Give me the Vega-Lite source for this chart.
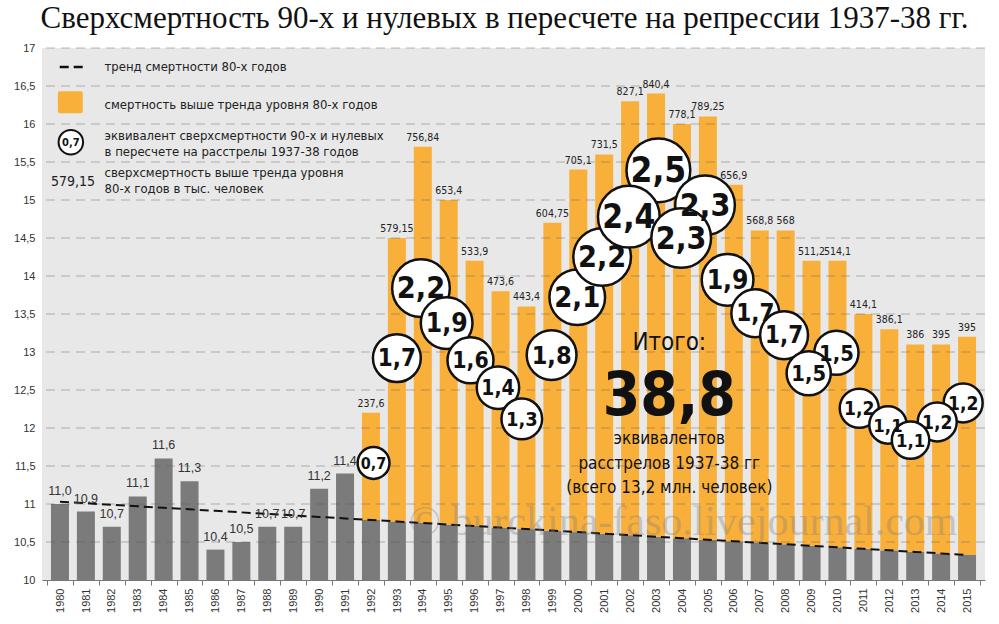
{
  "$schema": "https://vega.github.io/schema/vega-lite/v6.json",
  "autosize": {"type": "none"},
  "padding": {"left": 42, "top": 48, "right": 14, "bottom": 44},
  "width": 943,
  "height": 532,
  "background": "#ffffff",
  "title": {
    "text": "Сверхсмертность 90-х и нулевых в пересчете на репрессии 1937-38 гг.",
    "font": "Liberation Serif",
    "fontSize": 31,
    "fontWeight": "normal",
    "color": "#111111",
    "anchor": "middle",
    "offset": 7,
    "dx": -9
  },
  "datasets": {
    "bars": [
      {"year": 1980, "total": 11.0, "trend": 11.03, "gray": 11.0, "lbl": "11,0", "era": "a"},
      {"year": 1981, "total": 10.9, "trend": 11.01, "gray": 10.9, "lbl": "10,9", "era": "a"},
      {"year": 1982, "total": 10.7, "trend": 10.99, "gray": 10.7, "lbl": "10,7", "era": "a"},
      {"year": 1983, "total": 11.1, "trend": 10.97, "gray": 11.1, "lbl": "11,1", "era": "a"},
      {"year": 1984, "total": 11.6, "trend": 10.95, "gray": 11.6, "lbl": "11,6", "era": "a"},
      {"year": 1985, "total": 11.3, "trend": 10.93, "gray": 11.3, "lbl": "11,3", "era": "a"},
      {"year": 1986, "total": 10.4, "trend": 10.91, "gray": 10.4, "lbl": "10,4", "era": "a"},
      {"year": 1987, "total": 10.5, "trend": 10.89, "gray": 10.5, "lbl": "10,5", "era": "a"},
      {"year": 1988, "total": 10.7, "trend": 10.87, "gray": 10.7, "lbl": "10,7", "era": "a"},
      {"year": 1989, "total": 10.7, "trend": 10.85, "gray": 10.7, "lbl": "10,7", "era": "a"},
      {"year": 1990, "total": 11.2, "trend": 10.83, "gray": 11.2, "lbl": "11,2", "era": "a"},
      {"year": 1991, "total": 11.4, "trend": 10.81, "gray": 11.4, "lbl": "11,4", "era": "a"},
      {"year": 1992, "total": 12.2, "trend": 10.79, "gray": 10.79, "lbl": "237,6", "era": "b"},
      {"year": 1993, "total": 14.5, "trend": 10.77, "gray": 10.77, "lbl": "579,15", "era": "b"},
      {"year": 1994, "total": 15.7, "trend": 10.75, "gray": 10.75, "lbl": "756,84", "era": "b"},
      {"year": 1995, "total": 15.0, "trend": 10.73, "gray": 10.73, "lbl": "653,4", "era": "b"},
      {"year": 1996, "total": 14.2, "trend": 10.71, "gray": 10.71, "lbl": "533,9", "era": "b"},
      {"year": 1997, "total": 13.8, "trend": 10.69, "gray": 10.69, "lbl": "473,6", "era": "b"},
      {"year": 1998, "total": 13.6, "trend": 10.67, "gray": 10.67, "lbl": "443,4", "era": "b"},
      {"year": 1999, "total": 14.7, "trend": 10.65, "gray": 10.65, "lbl": "604,75", "era": "b"},
      {"year": 2000, "total": 15.4, "trend": 10.63, "gray": 10.63, "lbl": "705,1", "era": "b"},
      {"year": 2001, "total": 15.6, "trend": 10.61, "gray": 10.61, "lbl": "731,5", "era": "b"},
      {"year": 2002, "total": 16.3, "trend": 10.59, "gray": 10.59, "lbl": "827,1", "era": "b"},
      {"year": 2003, "total": 16.4, "trend": 10.57, "gray": 10.57, "lbl": "840,4", "era": "b"},
      {"year": 2004, "total": 16.0, "trend": 10.55, "gray": 10.55, "lbl": "778,1", "era": "b"},
      {"year": 2005, "total": 16.1, "trend": 10.53, "gray": 10.53, "lbl": "789,25", "era": "b"},
      {"year": 2006, "total": 15.2, "trend": 10.51, "gray": 10.51, "lbl": "656,9", "era": "b"},
      {"year": 2007, "total": 14.6, "trend": 10.49, "gray": 10.49, "lbl": "568,8", "era": "b"},
      {"year": 2008, "total": 14.6, "trend": 10.47, "gray": 10.47, "lbl": "568", "era": "b"},
      {"year": 2009, "total": 14.2, "trend": 10.45, "gray": 10.45, "lbl": "511,2", "era": "b"},
      {"year": 2010, "total": 14.2, "trend": 10.43, "gray": 10.43, "lbl": "514,1", "era": "b"},
      {"year": 2011, "total": 13.5, "trend": 10.41, "gray": 10.41, "lbl": "414,1", "era": "b"},
      {"year": 2012, "total": 13.3, "trend": 10.39, "gray": 10.39, "lbl": "386,1", "era": "b"},
      {"year": 2013, "total": 13.1, "trend": 10.37, "gray": 10.37, "lbl": "386", "era": "b"},
      {"year": 2014, "total": 13.1, "trend": 10.35, "gray": 10.35, "lbl": "395", "era": "b"},
      {"year": 2015, "total": 13.2, "trend": 10.33, "gray": 10.33, "lbl": "395", "era": "b"}
    ],
    "circles": [
      {"x": 1992.1, "y": 11.54, "eq": 0.7, "lbl": "0,7"},
      {"x": 1993.0, "y": 12.92, "eq": 1.7, "lbl": "1,7"},
      {"x": 1993.93, "y": 13.84, "eq": 2.2, "lbl": "2,2"},
      {"x": 1994.92, "y": 13.38, "eq": 1.9, "lbl": "1,9"},
      {"x": 1995.84, "y": 12.89, "eq": 1.6, "lbl": "1,6"},
      {"x": 1996.9, "y": 12.53, "eq": 1.4, "lbl": "1,4"},
      {"x": 1997.82, "y": 12.12, "eq": 1.3, "lbl": "1,3"},
      {"x": 1998.97, "y": 12.96, "eq": 1.8, "lbl": "1,8"},
      {"x": 1999.96, "y": 13.72, "eq": 2.1, "lbl": "2,1"},
      {"x": 2000.92, "y": 14.25, "eq": 2.2, "lbl": "2,2"},
      {"x": 2003.09, "y": 15.39, "eq": 2.5, "lbl": "2,5"},
      {"x": 2001.95, "y": 14.78, "eq": 2.4, "lbl": "2,4"},
      {"x": 2004.89, "y": 14.93, "eq": 2.3, "lbl": "2,3"},
      {"x": 2003.97, "y": 14.5, "eq": 2.3, "lbl": "2,3"},
      {"x": 2005.76, "y": 13.95, "eq": 1.9, "lbl": "1,9"},
      {"x": 2006.83, "y": 13.51, "eq": 1.7, "lbl": "1,7"},
      {"x": 2007.94, "y": 13.22, "eq": 1.7, "lbl": "1,7"},
      {"x": 2009.96, "y": 12.99, "eq": 1.5, "lbl": "1,5"},
      {"x": 2008.89, "y": 12.72, "eq": 1.5, "lbl": "1,5"},
      {"x": 2010.84, "y": 12.26, "eq": 1.2, "lbl": "1,2"},
      {"x": 2011.95, "y": 12.04, "eq": 1.1, "lbl": "1,1"},
      {"x": 2014.85, "y": 12.33, "eq": 1.2, "lbl": "1,2"},
      {"x": 2013.85, "y": 12.08, "eq": 1.2, "lbl": "1,2"},
      {"x": 2012.82, "y": 11.84, "eq": 1.1, "lbl": "1,1"}
    ]
  },
  "layer": [
    {
      "data": {"name": "bars"},
      "mark": {"type": "bar", "width": 18, "color": "#7b7b7b"},
      "encoding": {
        "x": {
          "field": "year",
          "type": "quantitative",
          "scale": {"domain": [1979.5, 2015.5], "nice": false, "zero": false},
          "axis": {
            "title": null,
            "grid": false,
            "values": [1979.5, 1980.5, 1981.5, 1982.5, 1983.5, 1984.5, 1985.5, 1986.5, 1987.5, 1988.5, 1989.5, 1990.5, 1991.5, 1992.5, 1993.5, 1994.5, 1995.5, 1996.5, 1997.5, 1998.5, 1999.5, 2000.5, 2001.5, 2002.5, 2003.5, 2004.5, 2005.5, 2006.5, 2007.5, 2008.5, 2009.5, 2010.5, 2011.5, 2012.5, 2013.5, 2014.5, 2015.5],
            "tickCount": 60,
            "labelExpr": "datum.value < 2015 ? format(datum.value + 0.5, 'd') : ''",
            "labelOffset": 13.1,
            "labelAngle": -90,
            "labelFont": "Liberation Sans",
            "labelFontSize": 11,
            "labelColor": "#333333",
            "labelPadding": 3,
            "labelOverlap": false,
            "labelFlush": false,
            "labelBound": false,
            "tickSize": 5,
            "tickColor": "#777777",
            "domainColor": "#777777"
          }
        },
        "y": {
          "field": "gray",
          "type": "quantitative",
          "scale": {"domain": [10, 17], "nice": false, "zero": false},
          "axis": {
            "title": null,
            "grid": false,
            "domain": false,
            "ticks": false,
            "values": [10, 10.5, 11, 11.5, 12, 12.5, 13, 13.5, 14, 14.5, 15, 15.5, 16, 16.5, 17],
            "tickCount": 30,
            "labelExpr": "replace(format(datum.value, '.1~f'), '.', ',')",
            "labelFont": "Liberation Sans",
            "labelFontSize": 11,
            "labelColor": "#333333",
            "labelPadding": 7
          }
        },
        "y2": {"datum": 10}
      }
    },
    {
      "data": {"name": "bars"},
      "transform": [{"filter": "datum.era === 'b'"}],
      "mark": {"type": "bar", "width": 18, "color": "#f9b03a"},
      "encoding": {
        "x": {"field": "year", "type": "quantitative"},
        "y": {"field": "trend", "type": "quantitative"},
        "y2": {"field": "total"}
      }
    },
    {
      "data": {"values": [{"g": 10.5}, {"g": 11}, {"g": 11.5}, {"g": 12}, {"g": 12.5}, {"g": 13}, {"g": 13.5}, {"g": 14}, {"g": 14.5}, {"g": 15}, {"g": 15.5}, {"g": 16}, {"g": 16.5}, {"g": 17}]},
      "mark": {"type": "rule", "color": "#555555", "opacity": 0.4, "strokeWidth": 1, "strokeDash": [9, 6]},
      "encoding": {
        "y": {"field": "g", "type": "quantitative"}
      }
    },
    {
      "data": {"name": "bars"},
      "mark": {"type": "line", "color": "#111111", "strokeWidth": 2, "strokeDash": [9, 5]},
      "encoding": {
        "x": {"field": "year", "type": "quantitative"},
        "y": {"field": "trend", "type": "quantitative"}
      }
    },
    {
      "data": {"name": "bars"},
      "transform": [{"filter": "datum.era === 'a'"}],
      "mark": {"type": "text", "font": "Liberation Sans", "fontSize": 12.5, "color": "#333333", "baseline": "bottom", "dy": -6},
      "encoding": {
        "x": {"field": "year", "type": "quantitative"},
        "y": {"field": "total", "type": "quantitative"},
        "text": {"field": "lbl"}
      }
    },
    {
      "data": {"name": "bars"},
      "transform": [{"filter": "datum.era === 'b'"}],
      "mark": {"type": "text", "font": "DejaVu Sans Condensed, Roboto, sans-serif", "fontSize": 10.5, "color": "#222222", "baseline": "bottom", "dy": -4},
      "encoding": {
        "x": {"field": "year", "type": "quantitative"},
        "y": {"field": "total", "type": "quantitative"},
        "text": {"field": "lbl"}
      }
    },
    {
      "data": {"values": [{"x": 2004.05, "y": 10.76, "t": "© burckina-faso.livejournal.com"}]},
      "mark": {"type": "text", "font": "Liberation Serif", "fontSize": 42, "color": "#808080", "opacity": 0.35, "baseline": "middle"},
      "encoding": {
        "x": {"field": "x", "type": "quantitative"},
        "y": {"field": "y", "type": "quantitative"},
        "text": {"field": "t"}
      }
    },
    {
      "data": {"values": [{"x0": 1979.99, "x1": 1980.95, "y": 16.75}]},
      "mark": {"type": "rule", "color": "#111111", "strokeWidth": 2.5, "strokeDash": [9, 5]},
      "encoding": {
        "x": {"field": "x0", "type": "quantitative"},
        "x2": {"field": "x1"},
        "y": {"field": "y", "type": "quantitative"}
      }
    },
    {
      "data": {"values": [{"x0": 1979.92, "x1": 1980.88, "y0": 16.14, "y1": 16.43}]},
      "mark": {"type": "rect", "color": "#f9b03a", "cornerRadius": 2},
      "encoding": {
        "x": {"field": "x0", "type": "quantitative"},
        "x2": {"field": "x1"},
        "y": {"field": "y0", "type": "quantitative"},
        "y2": {"field": "y1"}
      }
    },
    {
      "data": {"values": [{"x": 1980.42, "y": 15.76}]},
      "mark": {"type": "point", "shape": "circle", "filled": true, "fill": "#ffffff", "stroke": "#111111", "strokeWidth": 2, "size": 600, "opacity": 1},
      "encoding": {
        "x": {"field": "x", "type": "quantitative"},
        "y": {"field": "y", "type": "quantitative"}
      }
    },
    {
      "data": {"values": [{"x": 1980.42, "y": 15.76, "t": "0,7"}]},
      "mark": {"type": "text", "font": "DejaVu Sans Condensed, Roboto, sans-serif", "fontWeight": "bold", "fontSize": 11, "color": "#111111", "baseline": "middle", "dy": 1},
      "encoding": {
        "x": {"field": "x", "type": "quantitative"},
        "y": {"field": "y", "type": "quantitative"},
        "text": {"field": "t"}
      }
    },
    {
      "data": {"values": [{"x": 1980.5, "y": 15.24, "t": "579,15"}]},
      "mark": {"type": "text", "font": "DejaVu Sans Condensed, Roboto, sans-serif", "fontSize": 14, "color": "#222222", "baseline": "middle"},
      "encoding": {
        "x": {"field": "x", "type": "quantitative"},
        "y": {"field": "y", "type": "quantitative"},
        "text": {"field": "t"}
      }
    },
    {
      "data": {"values": [
        {"x": 1981.72, "y": 16.75, "t": "тренд смертности 80-х годов"},
        {"x": 1981.72, "y": 16.25, "t": "смертность выше тренда уровня 80-х годов"},
        {"x": 1981.72, "y": 15.84, "t": "эквивалент сверхсмертности 90-х и нулевых"},
        {"x": 1981.72, "y": 15.63, "t": "в пересчете на расстрелы 1937-38 годов"},
        {"x": 1981.72, "y": 15.35, "t": "сверхсмертность выше тренда уровня"},
        {"x": 1981.72, "y": 15.15, "t": "80-х годов в тыс. человек"}
      ]},
      "mark": {"type": "text", "font": "DejaVu Sans Condensed, Roboto, sans-serif", "fontSize": 13, "color": "#222222", "align": "left", "baseline": "middle"},
      "encoding": {
        "x": {"field": "x", "type": "quantitative"},
        "y": {"field": "y", "type": "quantitative"},
        "text": {"field": "t"}
      }
    },
    {
      "data": {"values": [{"x": 2003.51, "y": 13.12, "t": "Итого:"}]},
      "mark": {"type": "text", "font": "DejaVu Sans Condensed, Roboto, sans-serif", "fontSize": 24, "color": "#111111", "baseline": "middle"},
      "encoding": {
        "x": {"field": "x", "type": "quantitative"},
        "y": {"field": "y", "type": "quantitative"},
        "text": {"field": "t"}
      }
    },
    {
      "data": {"values": [{"x": 2003.51, "y": 12.17, "t": "38,8"}]},
      "mark": {"type": "text", "font": "DejaVu Sans Condensed, Roboto, sans-serif", "fontWeight": "bold", "fontSize": 60, "color": "#111111", "baseline": "alphabetic"},
      "encoding": {
        "x": {"field": "x", "type": "quantitative"},
        "y": {"field": "y", "type": "quantitative"},
        "text": {"field": "t"}
      }
    },
    {
      "data": {"values": [
        {"x": 2003.51, "y": 11.86, "t": "эквивалентов"},
        {"x": 2003.51, "y": 11.53, "t": "расстрелов 1937-38 гг"},
        {"x": 2003.51, "y": 11.21, "t": "(всего 13,2 млн. человек)"}
      ]},
      "mark": {"type": "text", "font": "DejaVu Sans Condensed, Roboto, sans-serif", "fontSize": 17, "color": "#111111", "baseline": "middle"},
      "encoding": {
        "x": {"field": "x", "type": "quantitative"},
        "y": {"field": "y", "type": "quantitative"},
        "text": {"field": "t"}
      }
    },
    {
      "data": {"name": "circles"},
      "mark": {"type": "point", "shape": "circle", "filled": true, "fill": "#ffffff", "stroke": "#111111", "strokeWidth": 2.5, "opacity": 1},
      "encoding": {
        "x": {"field": "x", "type": "quantitative"},
        "y": {"field": "y", "type": "quantitative"},
        "size": {"field": "eq", "type": "quantitative", "legend": null, "scale": {"type": "pow", "exponent": 2, "zero": false, "domain": [0.7, 2.5], "range": [1018, 4072]}}
      }
    },
    {
      "data": {"name": "circles"},
      "mark": {"type": "text", "font": "DejaVu Sans Condensed, Roboto, sans-serif", "fontWeight": "bold", "color": "#111111", "baseline": "middle", "dy": 1},
      "encoding": {
        "x": {"field": "x", "type": "quantitative"},
        "y": {"field": "y", "type": "quantitative"},
        "text": {"field": "lbl"},
        "size": {"field": "eq", "type": "quantitative", "legend": null, "scale": {"type": "pow", "exponent": 2, "zero": false, "domain": [0.7, 2.5], "range": [16, 35]}}
      }
    }
  ],
  "resolve": {"scale": {"size": "independent"}},
  "config": {
    "view": {"stroke": null, "fill": "#e8e8e8"},
    "axis": {"labelOverlap": false}
  }
}
